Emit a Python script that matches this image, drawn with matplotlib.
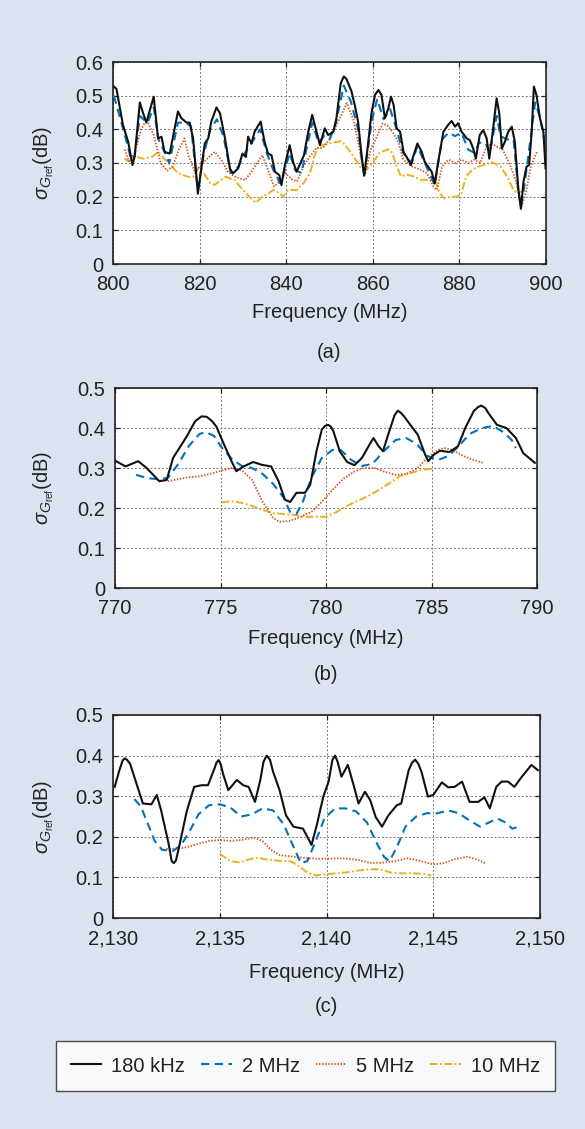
import matplotlib
matplotlib.use("Agg")
import matplotlib.pyplot as plt
from matplotlib.ticker import FuncFormatter
from matplotlib.lines import Line2D

plt.rcParams['font.family'] = ['Liberation Sans', 'DejaVu Sans']
plt.rcParams['mathtext.fontset'] = 'custom'
plt.rcParams['mathtext.rm'] = 'Liberation Sans'
plt.rcParams['mathtext.it'] = 'Liberation Sans:italic'

# ---------------- data ----------------
legend_labels = ["180 kHz", "2 MHz", "5 MHz", "10 MHz"]

# panel (a)
a_k180_x = [800.2, 800.8, 802.3, 803.5, 804.5, 805.0, 806.2, 806.9, 807.7, 809.4, 810.4, 811.2, 811.9, 813.1,
            815.0, 815.8, 817.0, 817.7, 818.5, 819.6, 820.4, 821.2, 822.0, 822.7, 823.9, 824.7, 825.8, 827.0,
            827.7, 828.9, 829.9, 830.7, 831.2, 832.0, 832.7, 834.1, 835.0, 835.8, 836.6, 837.4, 838.4, 838.9,
            839.7, 840.8, 841.6, 842.4, 843.1, 844.1, 845.1, 846.0, 847.0, 847.8, 848.9, 849.7, 850.9, 851.6,
            852.6, 853.3, 853.9, 855.1, 855.9, 856.6, 857.4, 858.0, 858.6, 859.7, 860.5, 861.3, 862.0, 862.8,
            863.6, 864.2, 864.8, 865.5, 866.3, 867.1, 867.8, 868.8, 869.3, 870.3, 871.3, 872.0, 872.8, 873.6,
            874.3, 875.1, 876.3, 877.4, 878.2, 879.0, 879.7, 880.5, 881.7, 882.4, 883.2, 883.8, 884.7, 885.5,
            886.3, 886.9, 887.7, 888.6, 889.2, 889.8, 890.5, 891.3, 892.1, 892.8, 893.6, 894.2, 894.8, 895.5,
            896.1, 896.7, 897.2, 897.8, 898.6, 899.4, 899.9]
a_k180_y = [0.527, 0.52, 0.413, 0.363, 0.294, 0.32, 0.48, 0.45, 0.42, 0.497, 0.373, 0.378, 0.333, 0.328,
            0.453, 0.433, 0.42, 0.42, 0.373, 0.209, 0.284, 0.358, 0.373, 0.423, 0.465, 0.448, 0.378, 0.284,
            0.269, 0.284, 0.328, 0.318, 0.378, 0.358, 0.393, 0.423, 0.363, 0.328, 0.323, 0.274, 0.264, 0.234,
            0.294, 0.353, 0.303, 0.274, 0.294, 0.323, 0.393, 0.443, 0.393, 0.353, 0.403, 0.383, 0.393, 0.433,
            0.537, 0.557, 0.55, 0.512, 0.468, 0.423, 0.323, 0.262, 0.323, 0.448, 0.502, 0.517, 0.502, 0.433,
            0.463, 0.497, 0.473, 0.403, 0.393, 0.333, 0.318, 0.294, 0.318, 0.358, 0.333, 0.303, 0.289, 0.274,
            0.239, 0.303, 0.393, 0.413, 0.425, 0.408, 0.418, 0.393, 0.373, 0.368, 0.343, 0.313, 0.383, 0.398,
            0.373, 0.313, 0.393, 0.492, 0.448, 0.343, 0.363, 0.393, 0.408, 0.363, 0.224, 0.164, 0.244, 0.289,
            0.294, 0.393, 0.527, 0.502, 0.433, 0.393, 0.284]

a_m2_x = [800.2, 801.5, 803.0, 804.2, 805.0, 806.2, 807.0, 808.0, 809.4, 810.5, 812.0, 813.0, 815.0, 816.5,
          818.0, 819.6, 821.0, 822.5, 824.0, 825.5, 827.2, 829.0, 830.5, 832.5, 834.0, 835.5, 837.0, 838.6,
          839.7, 840.8, 842.0, 843.5, 845.0, 846.0, 847.5, 848.7, 850.0, 851.5, 853.3, 855.0, 856.6, 858.0,
          859.7, 861.0, 862.5, 864.0, 865.5, 867.0, 869.0, 870.3, 872.0, 874.3, 876.0, 877.5, 879.0, 880.5,
          882.0, 883.5, 884.5, 886.0, 887.0, 888.6, 889.5, 891.0, 892.5, 893.6, 894.2, 895.0, 896.5, 897.5,
          898.5, 899.9]
a_m2_y = [0.50, 0.44, 0.37, 0.31, 0.32, 0.44, 0.43, 0.42, 0.465, 0.37, 0.33, 0.30, 0.42, 0.42,
          0.41, 0.22, 0.33, 0.40, 0.43, 0.38, 0.27, 0.29, 0.33, 0.37, 0.40, 0.33, 0.28, 0.24,
          0.28, 0.33, 0.28, 0.27, 0.36, 0.42, 0.36, 0.38, 0.37, 0.42, 0.53, 0.48, 0.40, 0.26,
          0.42, 0.49, 0.43, 0.46, 0.40, 0.33, 0.30, 0.35, 0.30, 0.235, 0.37, 0.39, 0.38, 0.39,
          0.34, 0.33, 0.36, 0.36, 0.33, 0.44, 0.38, 0.37, 0.37, 0.22, 0.17, 0.23, 0.38, 0.48,
          0.44, 0.35]

a_m5_x = [802.7, 803.7, 805.0, 806.5, 807.8, 809.5, 811.0, 812.5, 813.8, 815.2, 816.5, 817.5, 819.0, 820.0,
          821.5, 823.5, 825.0, 826.5, 828.0, 830.5, 832.0, 834.5, 835.8, 837.2, 839.0, 839.8, 841.5, 842.5,
          844.0, 845.5, 847.0, 848.5, 850.0, 851.5, 853.0, 854.0, 855.5, 856.5, 857.5, 858.3, 859.5, 861.0,
          862.3, 863.5, 864.7, 866.0, 867.0, 869.0, 871.0, 872.5, 874.0, 874.8, 876.0, 877.5, 879.0, 880.5,
          882.0, 883.5, 884.8, 886.0, 887.3, 888.5, 890.0, 891.5, 893.0, 894.3, 895.5, 896.5, 897.9]
a_m5_y = [0.34, 0.305, 0.33, 0.40, 0.428, 0.38, 0.30, 0.277, 0.29, 0.34, 0.373, 0.32, 0.27, 0.29,
          0.31, 0.333, 0.31, 0.275, 0.26, 0.249, 0.275, 0.323, 0.28, 0.23, 0.25, 0.27, 0.25, 0.245,
          0.29, 0.32, 0.345, 0.345, 0.37, 0.41, 0.45, 0.478, 0.43, 0.37, 0.30, 0.27, 0.34, 0.38,
          0.418, 0.41, 0.39, 0.36, 0.31, 0.29, 0.28, 0.27, 0.23, 0.22, 0.29, 0.31, 0.30, 0.31,
          0.30, 0.31, 0.30, 0.34, 0.358, 0.35, 0.34, 0.30, 0.25, 0.17, 0.22, 0.29, 0.333]

a_m10_x = [802.7, 803.5, 804.5, 805.5, 807.0, 809.0, 810.4, 812.0, 813.5, 815.0, 817.0, 818.5, 819.6, 821.0,
           822.5, 823.5, 825.0, 826.0, 828.0, 830.0, 831.5, 833.0, 834.5, 836.0, 837.0, 838.5, 839.3, 840.5,
           842.5, 844.0, 845.5, 846.5, 847.5, 849.0, 850.5, 852.8, 853.8, 855.0, 856.5, 857.5, 858.5, 860.0,
           861.5, 863.6, 864.5, 865.5, 866.5, 868.0, 869.5, 871.0, 873.0, 874.5, 875.5, 876.5, 878.0, 879.5,
           880.5, 881.5, 883.0, 884.5, 886.0, 887.4, 889.5, 891.0, 892.5, 893.5, 894.8]
a_m10_y = [0.313, 0.305, 0.31, 0.318, 0.313, 0.318, 0.333, 0.31, 0.29, 0.27, 0.26, 0.258, 0.285, 0.27,
           0.24, 0.235, 0.25, 0.259, 0.25, 0.22, 0.20, 0.182, 0.20, 0.21, 0.22, 0.21, 0.20, 0.22,
           0.22, 0.24, 0.27, 0.32, 0.35, 0.355, 0.36, 0.365, 0.35, 0.33, 0.30, 0.28, 0.28, 0.30,
           0.33, 0.341, 0.33, 0.29, 0.26, 0.265, 0.26, 0.25, 0.25, 0.245, 0.21, 0.195, 0.20, 0.20,
           0.21, 0.26, 0.28, 0.29, 0.295, 0.303, 0.29, 0.26, 0.22, 0.21, 0.219]

# panel (b)
b_k180_x = [770.05, 770.5, 771.1, 771.5, 772.1, 772.45, 772.75, 773.1, 773.4, 773.8, 774.1, 774.35, 774.6,
            774.8, 775.1, 775.45, 775.75, 776.1, 776.55, 776.95, 777.4, 777.75, 778.05, 778.3, 778.6, 779.0,
            779.25, 779.55, 779.8, 779.95, 780.1, 780.22, 780.35, 780.65, 781.0, 781.35, 781.7, 782.1, 782.25,
            782.5, 782.7, 783.0, 783.25, 783.4, 783.55, 783.7, 784.05, 784.35, 784.7, 784.85, 785.1, 785.4,
            785.85, 786.25, 786.6, 787.0, 787.2, 787.35, 787.55, 787.7, 788.1, 788.55, 789.0, 789.35, 789.9]
b_k180_y = [0.317, 0.304, 0.317, 0.30, 0.267, 0.27, 0.325, 0.354, 0.379, 0.417, 0.429, 0.428, 0.417,
            0.404, 0.367, 0.325, 0.292, 0.304, 0.315, 0.308, 0.304, 0.267, 0.221, 0.215, 0.238, 0.238,
            0.258, 0.342, 0.396, 0.405, 0.408, 0.404, 0.392, 0.342, 0.315, 0.307, 0.325, 0.362, 0.375,
            0.354, 0.342, 0.392, 0.432, 0.443, 0.438, 0.429, 0.404, 0.383, 0.333, 0.317, 0.333, 0.343,
            0.34, 0.354, 0.40, 0.442, 0.452, 0.456, 0.45, 0.437, 0.408, 0.40, 0.375, 0.337, 0.313]

b_m2_x = [771.0, 771.5, 772.0, 772.5, 773.0, 773.5, 774.0, 774.3, 774.7, 775.0, 775.5, 776.0, 776.5, 777.0,
          777.5, 778.0, 778.3, 778.6, 778.9, 779.3, 779.8, 780.3, 780.7, 781.2, 781.7, 782.2, 782.7, 783.3,
          783.8, 784.3, 784.8, 785.3, 785.8, 786.3, 786.8, 787.4, 787.9, 788.4, 788.8, 789.0]
b_m2_y = [0.283, 0.275, 0.272, 0.275, 0.31, 0.355, 0.385, 0.39, 0.38, 0.355, 0.325, 0.305, 0.30, 0.285,
          0.26, 0.225, 0.19, 0.185, 0.215, 0.275, 0.325, 0.345, 0.345, 0.32, 0.305, 0.31, 0.34, 0.37,
          0.375, 0.36, 0.33, 0.32, 0.33, 0.355, 0.385, 0.40, 0.405, 0.39, 0.37, 0.35]

b_m5_x = [772.5, 773.0, 773.5, 774.0, 774.5, 775.0, 775.5, 776.0, 776.5, 777.0, 777.5, 777.8, 778.3, 778.8,
          779.3, 779.8, 780.3, 780.8, 781.3, 781.8, 782.3, 782.8, 783.3, 783.8, 784.3, 784.8, 785.3, 785.6,
          786.0, 786.5, 787.0, 787.45]
b_m5_y = [0.267, 0.272, 0.277, 0.279, 0.285, 0.293, 0.30, 0.295, 0.27, 0.215, 0.175, 0.165, 0.168, 0.178,
          0.19, 0.215, 0.245, 0.272, 0.29, 0.30, 0.30, 0.29, 0.283, 0.285, 0.298, 0.325, 0.345, 0.35,
          0.345, 0.33, 0.32, 0.313]

b_m10_x = [775.05, 775.5, 776.0, 776.5, 777.0, 777.5, 778.0, 778.5, 779.0, 779.5, 780.0, 780.5, 781.0,
           781.5, 782.0, 782.5, 783.0, 783.5, 784.0, 784.5, 785.0]
b_m10_y = [0.214, 0.217, 0.213, 0.205, 0.195, 0.187, 0.185, 0.183, 0.178, 0.178, 0.178, 0.19, 0.205,
           0.218, 0.23, 0.245, 0.262, 0.28, 0.287, 0.295, 0.298]

# panel (c)
c_k180_x = [2130.08, 2130.3, 2130.45, 2130.55, 2130.65, 2130.8, 2131.1, 2131.4, 2131.8, 2132.05, 2132.25,
            2132.6, 2132.75, 2132.85, 2132.95, 2133.1, 2133.45, 2133.8, 2134.15, 2134.45, 2134.75, 2134.85,
            2134.95, 2135.05, 2135.15, 2135.4, 2135.8, 2136.1, 2136.35, 2136.65, 2136.9, 2137.05, 2137.2,
            2137.35, 2137.5, 2137.8, 2138.1, 2138.45, 2138.9, 2139.3, 2139.55, 2139.85, 2140.1, 2140.28,
            2140.4, 2140.52, 2140.7, 2141.0, 2141.25, 2141.5, 2141.8, 2142.05, 2142.3, 2142.6, 2142.9,
            2143.3, 2143.5, 2143.85, 2144.0, 2144.15, 2144.3, 2144.45, 2144.75, 2145.0, 2145.4, 2145.7,
            2146.0, 2146.35, 2146.7, 2147.1, 2147.4, 2147.65, 2147.95, 2148.2, 2148.5, 2148.8, 2149.15,
            2149.6, 2149.9]
c_k180_y = [0.323, 0.364, 0.388, 0.393, 0.39, 0.38, 0.331, 0.282, 0.28, 0.303, 0.266,
            0.184, 0.14, 0.135, 0.142, 0.176, 0.262, 0.323, 0.327, 0.327, 0.368, 0.383,
            0.389, 0.378, 0.356, 0.315, 0.34, 0.327, 0.323, 0.286, 0.34, 0.385, 0.40,
            0.39, 0.36, 0.315, 0.253, 0.225, 0.22, 0.18, 0.23, 0.299, 0.336, 0.39,
            0.40, 0.385, 0.348, 0.377, 0.331, 0.282, 0.311, 0.29, 0.249, 0.225, 0.253,
            0.278, 0.282, 0.364, 0.382, 0.39, 0.38, 0.36, 0.299, 0.303, 0.334, 0.322,
            0.323, 0.336, 0.286, 0.286, 0.297, 0.27, 0.323, 0.336, 0.336, 0.323, 0.348,
            0.377, 0.364]

c_m2_x = [2131.0, 2131.3, 2131.65, 2131.95, 2132.3, 2132.8, 2133.2, 2133.6, 2134.0, 2134.5, 2135.0, 2135.5,
          2136.0, 2136.5, 2137.0, 2137.5, 2138.0, 2138.5, 2138.8, 2139.1, 2139.5, 2139.9, 2140.4, 2140.9,
          2141.4, 2141.9, 2142.3, 2142.7, 2142.95, 2143.3, 2143.7, 2144.2, 2144.7, 2145.2, 2145.7, 2146.2,
          2146.7, 2147.2, 2147.6, 2148.0, 2148.4, 2148.7, 2149.0]
c_m2_y = [0.293, 0.275, 0.23, 0.19, 0.168, 0.165, 0.18, 0.215, 0.255, 0.278, 0.28, 0.272,
          0.25, 0.255, 0.27, 0.265, 0.23, 0.17, 0.135, 0.14, 0.19, 0.245, 0.27, 0.27,
          0.262, 0.235, 0.19, 0.15, 0.14, 0.175, 0.225, 0.25, 0.258, 0.258, 0.265, 0.258,
          0.24, 0.225, 0.235, 0.245, 0.235, 0.22, 0.225]

c_m5_x = [2132.5, 2133.0, 2133.5, 2134.0, 2134.5, 2135.0, 2135.5, 2136.0, 2136.6, 2137.0, 2137.4, 2137.8,
          2138.3, 2139.0, 2139.5, 2140.0, 2140.5, 2141.0, 2141.5, 2142.0, 2142.6, 2143.2, 2143.8, 2144.3,
          2145.0, 2145.5, 2146.0, 2146.6, 2147.0, 2147.5]
c_m5_y = [0.17, 0.17, 0.175, 0.183, 0.19, 0.192, 0.19, 0.192, 0.198, 0.19, 0.168, 0.155,
          0.152, 0.148, 0.146, 0.146, 0.147, 0.146, 0.143, 0.136, 0.136, 0.14, 0.147, 0.142,
          0.132, 0.135, 0.145, 0.151, 0.145, 0.134]

c_m10_x = [2135.0, 2135.5, 2135.9, 2136.4, 2136.8, 2137.3, 2137.8, 2138.3, 2138.7, 2139.1, 2139.5, 2140.0,
           2140.5, 2141.0, 2141.5, 2142.0, 2142.5, 2143.0, 2143.5, 2144.0, 2144.5, 2144.9]
c_m10_y = [0.158, 0.14, 0.137, 0.145, 0.148, 0.143, 0.141, 0.14, 0.128, 0.112, 0.105, 0.108,
           0.11, 0.113, 0.117, 0.12, 0.12, 0.112, 0.11, 0.11, 0.109, 0.105]

a_xticks = [800, 820, 840, 860, 880, 900]
b_xticks = [770, 775, 780, 785, 790]
c_xticks = [2130, 2135, 2140, 2145, 2150]
a_yticks = [0, 0.1, 0.2, 0.3, 0.4, 0.5, 0.6]
bc_yticks = [0, 0.1, 0.2, 0.3, 0.4, 0.5]

# ---------------- styling ----------------
W, H = 585, 1129
BG = '#dbe2f0'
TXT = '#222222'
FS = 14.5
styles = [
    dict(color='#111111', lw=1.5, ls='-'),
    dict(color='#0072BD', lw=1.5, ls=(0, (4, 2.6))),
    dict(color='#D95319', lw=1.3, ls=(0, (0.8, 0.9))),
    dict(color='#EDB120', lw=1.4, ls=(0, (4, 1.2, 1, 1.2))),
]

fig = plt.figure(figsize=(W / 100, H / 100), dpi=100, facecolor=BG)


def make_ax(l, r, t, b):
    return fig.add_axes([l / W, 1 - b / H, (r - l) / W, (b - t) / H])


def style_ax(ax, xlim, xticks, ylim, yticks, comma=False):
    ax.set_facecolor('white')
    ax.set_xlim(*xlim)
    ax.set_ylim(*ylim)
    ax.set_xticks(xticks)
    ax.set_yticks(yticks)
    if comma:
        ax.xaxis.set_major_formatter(FuncFormatter(lambda v, p: f"{v:,.0f}"))
    else:
        ax.xaxis.set_major_formatter(FuncFormatter(lambda v, p: f"{v:g}"))
    ax.yaxis.set_major_formatter(FuncFormatter(lambda v, p: f"{v:g}"))
    ax.grid(True, color='#777777', lw=0.7, ls=(0, (2, 2)))
    ax.set_axisbelow(True)
    for s in ax.spines.values():
        s.set_color('#222222')
        s.set_linewidth(1.2)
    ax.tick_params(direction='in', length=3.5, width=0.9, colors='#222222',
                   labelsize=FS, labelcolor=TXT, top=True, right=True)
    ax.tick_params(axis='x', pad=8)
    ax.tick_params(axis='y', pad=7)


panels = [
    dict(box=(113, 546, 62, 264), xlim=(800, 900), xt=a_xticks, ylim=(0, 0.6), yt=a_yticks, comma=False,
         series=[(a_k180_x, a_k180_y), (a_m2_x, a_m2_y), (a_m5_x, a_m5_y), (a_m10_x, a_m10_y)],
         xl_y=312, cap_y=352, cap='(a)'),
    dict(box=(115, 537, 388, 588), xlim=(770, 790), xt=b_xticks, ylim=(0, 0.5), yt=bc_yticks, comma=False,
         series=[(b_k180_x, b_k180_y), (b_m2_x, b_m2_y), (b_m5_x, b_m5_y), (b_m10_x, b_m10_y)],
         xl_y=638, cap_y=675, cap='(b)'),
    dict(box=(113, 540, 715, 918), xlim=(2130, 2150), xt=c_xticks, ylim=(0, 0.5), yt=bc_yticks, comma=True,
         series=[(c_k180_x, c_k180_y), (c_m2_x, c_m2_y), (c_m5_x, c_m5_y), (c_m10_x, c_m10_y)],
         xl_y=972, cap_y=1007, cap='(c)'),
]

for p in panels:
    l, r, t, b = p['box']
    ax = make_ax(l, r, t, b)
    for i in [3, 2, 1, 0]:
        xs, ys = p['series'][i]
        st = styles[i]
        ax.plot(xs, ys, color=st['color'], lw=st['lw'], ls=st['ls'], zorder=3 + (3 - i),
                solid_joinstyle='round', dash_capstyle='butt')
    style_ax(ax, p['xlim'], p['xt'], p['ylim'], p['yt'], p['comma'])
    cx = (l + r) / 2 / W
    fig.text(cx, 1 - p['xl_y'] / H, 'Frequency (MHz)', ha='center', va='center', fontsize=FS, color=TXT)
    fig.text(cx, 1 - p['cap_y'] / H, p['cap'], ha='center', va='center', fontsize=FS, color=TXT)
    fig.text(44 / W, 1 - (t + b) / 2 / H, r'$\sigma_{G_{\mathrm{ref}}}$(dB)', rotation=90,
             ha='center', va='center', fontsize=FS, color=TXT)

handles = [Line2D([], [], color=s['color'], lw=s['lw'], ls=s['ls']) for s in styles]
leg = fig.legend(handles, legend_labels, loc='center', bbox_to_anchor=(305.5 / W, 1 - 1066 / H),
                 ncol=4, fontsize=FS, frameon=True, fancybox=False, handlelength=1.5,
                 handletextpad=0.5, columnspacing=0.8, borderpad=0.75, labelcolor=TXT)
leg.get_frame().set_edgecolor('#222222')
leg.get_frame().set_linewidth(1.0)
leg.get_frame().set_facecolor('white')

fig.savefig('out.png', dpi=100, facecolor=BG)
